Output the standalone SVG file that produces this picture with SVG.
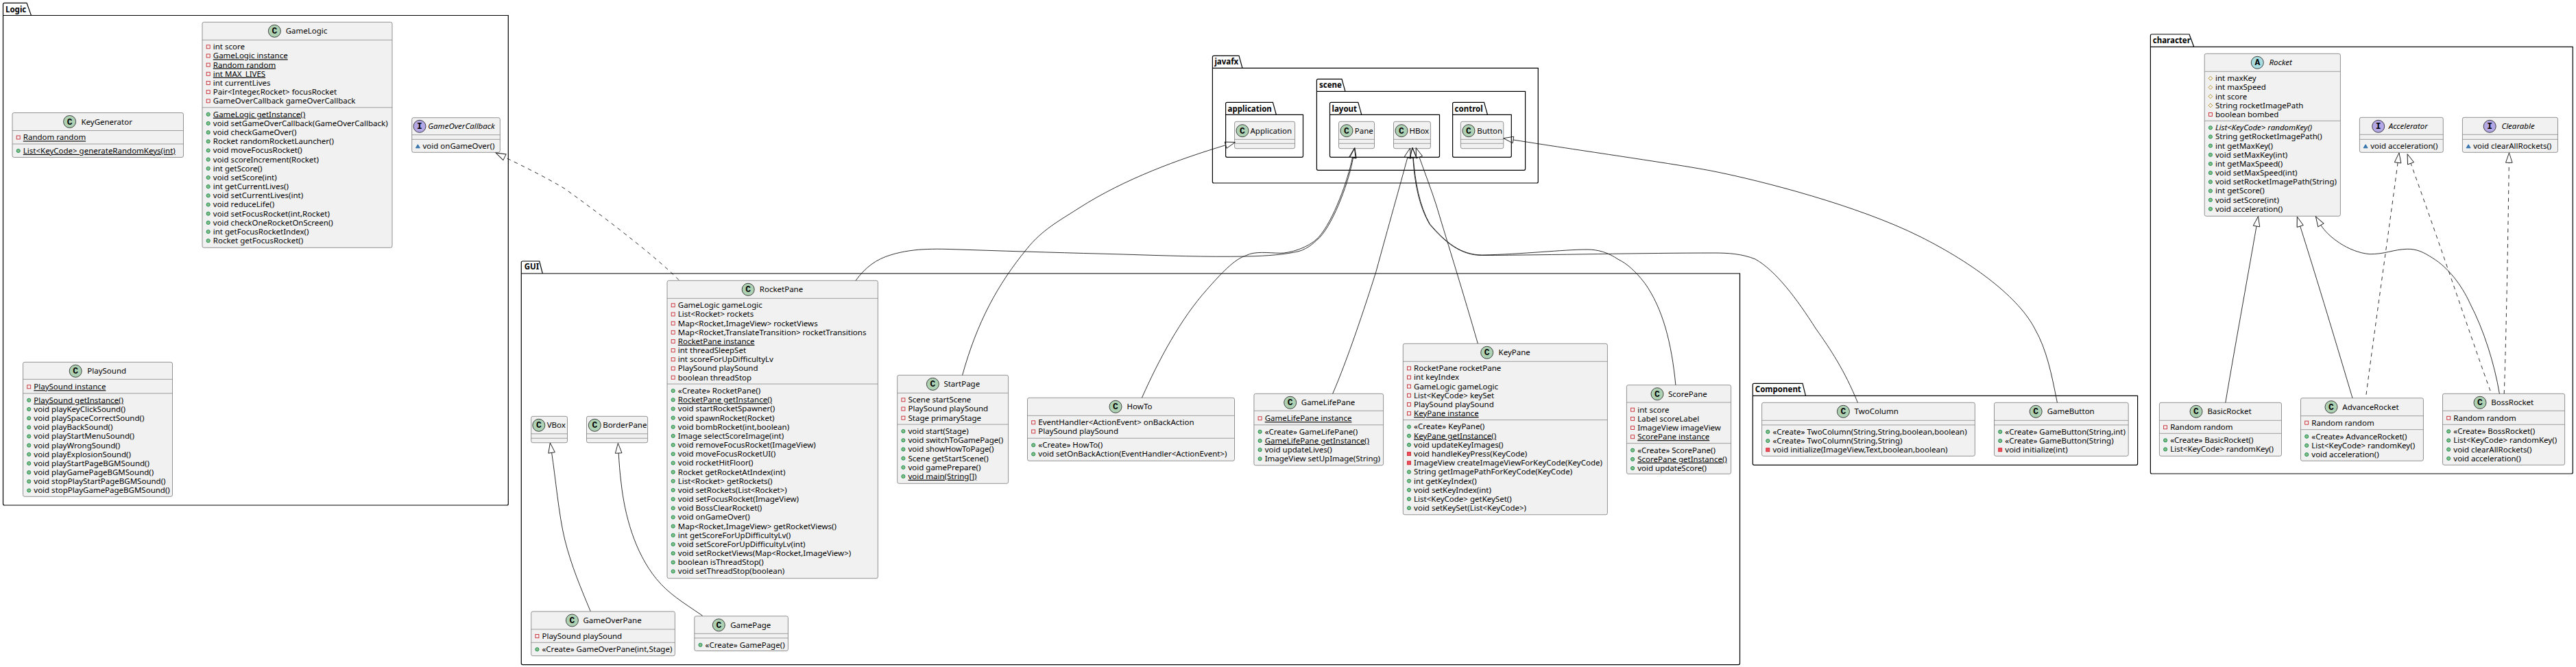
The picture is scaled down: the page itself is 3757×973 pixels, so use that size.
<svg xmlns="http://www.w3.org/2000/svg" width="3757" height="973" viewBox="0 0 3757 973">
<style>
text{font-family:"Noto Sans","Liberation Sans",sans-serif;font-size:11.5px;fill:#000}
.u{text-decoration:underline}
.i{font-style:italic}
.pl{font-weight:bold;font-size:11.5px}
.ci{font-family:"Liberation Mono",monospace;font-weight:bold;font-size:13px;text-anchor:middle}
.pk{fill:none;stroke:#000;stroke-width:1.2}
.box{fill:#F1F1F1;stroke:#777;stroke-width:.8}
.sep{stroke:#888;stroke-width:.8}
.cc{fill:#ADD1B2;stroke:#181818;stroke-width:.8}
.ca{fill:#A9DCDF;stroke:#181818;stroke-width:.8}
.cf{fill:#B4A7E5;stroke:#181818;stroke-width:.8}
.l{fill:none;stroke:#181818;stroke-width:.9;marker-end:url(#ext)}
.d{stroke-dasharray:5.6 5.6}
</style>
<defs>
<marker id="ext" markerUnits="userSpaceOnUse" markerWidth="18" markerHeight="14" viewBox="-1 -7 18 14" refX="0" refY="0" orient="auto"><path d="M0,-4.8 L14.5,0 L0,4.8Z" fill="none" stroke="#181818" stroke-width=".9"/></marker>
<rect id="pr" x="-2.5" y="-2.5" width="5" height="5" fill="none" stroke="#C82930" stroke-width=".9"/>
<rect id="prm" x="-2.5" y="-2.5" width="5" height="5" fill="#F24D5C" stroke="#C82930" stroke-width=".9"/>
<circle id="pu" r="2.6" fill="#84BE84" stroke="#038048" stroke-width=".8"/>
<path id="pt" d="M-3,0 L0,-3 L3,0 L0,3Z" fill="none" stroke="#B38D22" stroke-width=".9"/>
<path id="pk" d="M-3,2.5 L0,-2.5 L3,2.5Z" fill="#4177AF" stroke="#1963A0" stroke-width=".8"/>
</defs>
<rect width="3757" height="973" fill="#fff"/>
<g id="packages">
<g id="pkg-Logic"><path class="pk" d="M4.5,6.3 q0,-2 2,-2 H39 L45.5,22.5 H741.3 V735 q0,2 -2,2 H6.5 q-2,0 -2,-2 Z M4.5,22.5 H45.5"/><text class="pl" x="8" y="17.5">Logic</text></g>
<g id="pkg-GUI"><path class="pk" d="M760.3,383 q0,-2 2,-2 H786.7 L791.3,399 H2537.5 V967.6 q0,2 -2,2 H762.3 q-2,0 -2,-2 Z M760.3,399 H791.3"/><text class="pl" x="764.7" y="393.3">GUI</text></g>
<g id="pkg-Component"><path class="pk" d="M2556.3,561.3 q0,-2 2,-2 H2629 L2633.5,577.3 H3117.6 V676.3 q0,2 -2,2 H2558.3 q-2,0 -2,-2 Z M2556.3,577.3 H2633.5"/><text class="pl" x="2559.8" y="571.7">Component</text></g>
<g id="pkg-character"><path class="pk" d="M3136.4,52 q0,-2 2,-2 H3193 L3199.7,68.3 H3752.3 V689 q0,2 -2,2 H3138.4 q-2,0 -2,-2 Z M3136.4,68.3 H3199.7"/><text class="pl" x="3139.8" y="63.3">character</text></g>
<g id="pkg-javafx"><path class="pk" d="M1768.4,83.3 q0,-2 2,-2 H1807 L1812,99.3 H2243.3 V265 q0,2 -2,2 H1770.4 q-2,0 -2,-2 Z M1768.4,99.3 H1812"/><text class="pl" x="1771.4" y="94">javafx</text></g>
<g id="pkg-scene"><path class="pk" d="M1920.4,117.3 q0,-2 2,-2 H1957 L1962,133.3 H2224.6 V246.3 q0,2 -2,2 H1922.4 q-2,0 -2,-2 Z M1920.4,133.3 H1962"/><text class="pl" x="1924" y="128">scene</text></g>
<g id="pkg-application"><path class="pk" d="M1787.6,151.3 q0,-2 2,-2 H1856.4 L1861.4,167.3 H1900.5 V227.3 q0,2 -2,2 H1789.6 q-2,0 -2,-2 Z M1787.6,167.3 H1861.4"/><text class="pl" x="1790.6" y="162.5">application</text></g>
<g id="pkg-layout"><path class="pk" d="M1939.5,151.3 q0,-2 2,-2 H1980.8 L1985.8,167.3 H2099.5 V227.3 q0,2 -2,2 H1941.5 q-2,0 -2,-2 Z M1939.5,167.3 H1985.8"/><text class="pl" x="1942.5" y="162.5">layout</text></g>
<g id="pkg-control"><path class="pk" d="M2118.6,151.3 q0,-2 2,-2 H2164.5 L2169.5,167.3 H2204.3 V227.3 q0,2 -2,2 H2120.6 q-2,0 -2,-2 Z M2118.6,167.3 H2169.5"/><text class="pl" x="2121.6" y="162.5">control</text></g>
</g>
<g id="nodes">
<g id="KeyGenerator" transform="translate(18,164.5)"><rect class="box" width="249.5" height="65" rx="2.5"/><circle class="cc" cx="83.6" cy="13" r="9"/><text class="ci" x="83.6" y="17">C</text><text x="100.4" y="17">KeyGenerator</text><path class="sep" d="M0,26H249.5M0,45.5H249.5"/>
<g transform="translate(8.7,26)"><use href="#pr" y="10"/><text class="u" x="7.1" y="13.9">Random random</text></g>
<g transform="translate(8.7,45.5)"><use href="#pu" y="10"/><text class="u" x="7.1" y="13.9">List&lt;KeyCode&gt; generateRandomKeys(int)</text></g></g>
<g id="GameLogic" transform="translate(295,32.3)"><rect class="box" width="277" height="329" rx="2.5"/><circle class="cc" cx="105.4" cy="13" r="9"/><text class="ci" x="105.4" y="17">C</text><text x="121.7" y="17">GameLogic</text><path class="sep" d="M0,26H277M0,124.5H277"/>
<g transform="translate(8.7,26)"><use href="#pr" y="10"/><text x="7.1" y="13.9">int score</text><use href="#pr" y="23.17"/><text class="u" x="7.1" y="27.07">GameLogic instance</text><use href="#pr" y="36.34"/><text class="u" x="7.1" y="40.24">Random random</text><use href="#pr" y="49.51"/><text class="u" x="7.1" y="53.41">int MAX_LIVES</text><use href="#pr" y="62.68"/><text x="7.1" y="66.58">int currentLives</text><use href="#pr" y="75.85"/><text x="7.1" y="79.75">Pair&lt;Integer,Rocket&gt; focusRocket</text><use href="#pr" y="89.02"/><text x="7.1" y="92.92">GameOverCallback gameOverCallback</text></g>
<g transform="translate(8.7,124.5)"><use href="#pu" y="10"/><text class="u" x="7.1" y="13.9">GameLogic getInstance()</text><use href="#pu" y="23.17"/><text x="7.1" y="27.07">void setGameOverCallback(GameOverCallback)</text><use href="#pu" y="36.34"/><text x="7.1" y="40.24">void checkGameOver()</text><use href="#pu" y="49.51"/><text x="7.1" y="53.41">Rocket randomRocketLauncher()</text><use href="#pu" y="62.68"/><text x="7.1" y="66.58">void moveFocusRocket()</text><use href="#pu" y="75.85"/><text x="7.1" y="79.75">void scoreIncrement(Rocket)</text><use href="#pu" y="89.02"/><text x="7.1" y="92.92">int getScore()</text><use href="#pu" y="102.19"/><text x="7.1" y="106.09">void setScore(int)</text><use href="#pu" y="115.36"/><text x="7.1" y="119.26">int getCurrentLives()</text><use href="#pu" y="128.53"/><text x="7.1" y="132.43">void setCurrentLives(int)</text><use href="#pu" y="141.7"/><text x="7.1" y="145.6">void reduceLife()</text><use href="#pu" y="154.87"/><text x="7.1" y="158.77">void setFocusRocket(int,Rocket)</text><use href="#pu" y="168.04"/><text x="7.1" y="171.94">void checkOneRocketOnScreen()</text><use href="#pu" y="181.21"/><text x="7.1" y="185.11">int getFocusRocketIndex()</text><use href="#pu" y="194.38"/><text x="7.1" y="198.28">Rocket getFocusRocket()</text></g></g>
<g id="GameOverCallback" transform="translate(600.7,171.7)"><rect class="box" width="128.6" height="50.6" rx="2.5"/><circle class="cf" cx="11.3" cy="12.6" r="9"/><text class="ci" x="11.3" y="16.6">I</text><text class="i" x="23.6" y="16.6">GameOverCallback</text><path class="sep" d="M0,25H128.6M0,31.6H128.6"/>
<g transform="translate(8.7,31.6)"><use href="#pk" y="10"/><text x="7.1" y="13.9">void onGameOver()</text></g></g>
<g id="PlaySound" transform="translate(33.5,528.3)"><rect class="box" width="218" height="196" rx="2.5"/><circle class="cc" cx="76.7" cy="13" r="9"/><text class="ci" x="76.7" y="17">C</text><text x="93.8" y="17">PlaySound</text><path class="sep" d="M0,25H218M0,45.5H218"/>
<g transform="translate(8.7,26)"><use href="#pr" y="10"/><text class="u" x="7.1" y="13.9">PlaySound instance</text></g>
<g transform="translate(8.7,45.5)"><use href="#pu" y="10"/><text class="u" x="7.1" y="13.9">PlaySound getInstance()</text><use href="#pu" y="23.17"/><text x="7.1" y="27.07">void playKeyClickSound()</text><use href="#pu" y="36.34"/><text x="7.1" y="40.24">void playSpaceCorrectSound()</text><use href="#pu" y="49.51"/><text x="7.1" y="53.41">void playBackSound()</text><use href="#pu" y="62.68"/><text x="7.1" y="66.58">void playStartMenuSound()</text><use href="#pu" y="75.85"/><text x="7.1" y="79.75">void playWrongSound()</text><use href="#pu" y="89.02"/><text x="7.1" y="92.92">void playExplosionSound()</text><use href="#pu" y="102.19"/><text x="7.1" y="106.09">void playStartPageBGMSound()</text><use href="#pu" y="115.36"/><text x="7.1" y="119.26">void playGamePageBGMSound()</text><use href="#pu" y="128.53"/><text x="7.1" y="132.43">void stopPlayStartPageBGMSound()</text><use href="#pu" y="141.7"/><text x="7.1" y="145.6">void stopPlayGamePageBGMSound()</text></g></g>
<g id="VBox" transform="translate(774.7,607.3)"><rect class="box" width="52.8" height="38.5" rx="2.5"/><circle class="cc" cx="11.1" cy="13" r="9"/><text class="ci" x="11.1" y="17">C</text><text x="23" y="17">VBox</text><path class="sep" d="M0,25.5H52.8M0,32H52.8"/></g>
<g id="BorderPane" transform="translate(855.5,607.3)"><rect class="box" width="89.1" height="38.5" rx="2.5"/><circle class="cc" cx="11.8" cy="13" r="9"/><text class="ci" x="11.8" y="17">C</text><text x="23.7" y="17">BorderPane</text><path class="sep" d="M0,25.5H89.1M0,32H89.1"/></g>
<g id="GameOverPane" transform="translate(774.7,892)"><rect class="box" width="209.7" height="64.7" rx="2.5"/><circle class="cc" cx="59.7" cy="13" r="9"/><text class="ci" x="59.7" y="17">C</text><text x="75.8" y="17">GameOverPane</text><path class="sep" d="M0,26H209.7M0,45.3H209.7"/>
<g transform="translate(8.7,26)"><use href="#pr" y="10"/><text x="7.1" y="13.9">PlaySound playSound</text></g>
<g transform="translate(8.7,45.3)"><use href="#pu" y="10"/><text x="7.1" y="13.9">«Create» GameOverPane(int,Stage)</text></g></g>
<g id="GamePage" transform="translate(1012.8,898.8)"><rect class="box" width="136.6" height="50.7" rx="2.5"/><circle class="cc" cx="35.5" cy="13" r="9"/><text class="ci" x="35.5" y="17">C</text><text x="52.4" y="17">GamePage</text><path class="sep" d="M0,25.5H136.6M0,32H136.6"/>
<g transform="translate(8.7,32)"><use href="#pu" y="10"/><text x="7.1" y="13.9">«Create» GamePage()</text></g></g>
<g id="RocketPane" transform="translate(973,409.3)"><rect class="box" width="307.4" height="434.4" rx="2.5"/><circle class="cc" cx="118.2" cy="13" r="9"/><text class="ci" x="118.2" y="17">C</text><text x="134.8" y="17">RocketPane</text><path class="sep" d="M0,26H307.4M0,150.8H307.4"/>
<g transform="translate(8.7,26)"><use href="#pr" y="10"/><text x="7.1" y="13.9">GameLogic gameLogic</text><use href="#pr" y="23.17"/><text x="7.1" y="27.07">List&lt;Rocket&gt; rockets</text><use href="#pr" y="36.34"/><text x="7.1" y="40.24">Map&lt;Rocket,ImageView&gt; rocketViews</text><use href="#pr" y="49.51"/><text x="7.1" y="53.41">Map&lt;Rocket,TranslateTransition&gt; rocketTransitions</text><use href="#pr" y="62.68"/><text class="u" x="7.1" y="66.58">RocketPane instance</text><use href="#pr" y="75.85"/><text x="7.1" y="79.75">int threadSleepSet</text><use href="#pr" y="89.02"/><text x="7.1" y="92.92">int scoreForUpDifficultyLv</text><use href="#pr" y="102.19"/><text x="7.1" y="106.09">PlaySound playSound</text><use href="#pr" y="115.36"/><text x="7.1" y="119.26">boolean threadStop</text></g>
<g transform="translate(8.7,150.8)"><use href="#pu" y="10"/><text x="7.1" y="13.9">«Create» RocketPane()</text><use href="#pu" y="23.17"/><text class="u" x="7.1" y="27.07">RocketPane getInstance()</text><use href="#pu" y="36.34"/><text x="7.1" y="40.24">void startRocketSpawner()</text><use href="#pu" y="49.51"/><text x="7.1" y="53.41">void spawnRocket(Rocket)</text><use href="#pu" y="62.68"/><text x="7.1" y="66.58">void bombRocket(int,boolean)</text><use href="#pu" y="75.85"/><text x="7.1" y="79.75">Image selectScoreImage(int)</text><use href="#pu" y="89.02"/><text x="7.1" y="92.92">void removeFocusRocket(ImageView)</text><use href="#pu" y="102.19"/><text x="7.1" y="106.09">void moveFocusRocketUI()</text><use href="#pu" y="115.36"/><text x="7.1" y="119.26">void rocketHitFloor()</text><use href="#pu" y="128.53"/><text x="7.1" y="132.43">Rocket getRocketAtIndex(int)</text><use href="#pu" y="141.7"/><text x="7.1" y="145.6">List&lt;Rocket&gt; getRockets()</text><use href="#pu" y="154.87"/><text x="7.1" y="158.77">void setRockets(List&lt;Rocket&gt;)</text><use href="#pu" y="168.04"/><text x="7.1" y="171.94">void setFocusRocket(ImageView)</text><use href="#pu" y="181.21"/><text x="7.1" y="185.11">void BossClearRocket()</text><use href="#pu" y="194.38"/><text x="7.1" y="198.28">void onGameOver()</text><use href="#pu" y="207.55"/><text x="7.1" y="211.45">Map&lt;Rocket,ImageView&gt; getRocketViews()</text><use href="#pu" y="220.72"/><text x="7.1" y="224.62">int getScoreForUpDifficultyLv()</text><use href="#pu" y="233.89"/><text x="7.1" y="237.79">void setScoreForUpDifficultyLv(int)</text><use href="#pu" y="247.06"/><text x="7.1" y="250.96">void setRocketViews(Map&lt;Rocket,ImageView&gt;)</text><use href="#pu" y="260.23"/><text x="7.1" y="264.13">boolean isThreadStop()</text><use href="#pu" y="273.4"/><text x="7.1" y="277.3">void setThreadStop(boolean)</text></g></g>
<g id="StartPage" transform="translate(1308.7,547.3)"><rect class="box" width="161.9" height="158" rx="2.5"/><circle class="cc" cx="51.7" cy="13" r="9"/><text class="ci" x="51.7" y="17">C</text><text x="67.7" y="17">StartPage</text><path class="sep" d="M0,26H161.9M0,71.8H161.9"/>
<g transform="translate(8.7,26)"><use href="#pr" y="10"/><text x="7.1" y="13.9">Scene startScene</text><use href="#pr" y="23.17"/><text x="7.1" y="27.07">PlaySound playSound</text><use href="#pr" y="36.34"/><text x="7.1" y="40.24">Stage primaryStage</text></g>
<g transform="translate(8.7,71.8)"><use href="#pu" y="10"/><text x="7.1" y="13.9">void start(Stage)</text><use href="#pu" y="23.17"/><text x="7.1" y="27.07">void switchToGamePage()</text><use href="#pu" y="36.34"/><text x="7.1" y="40.24">void showHowToPage()</text><use href="#pu" y="49.51"/><text x="7.1" y="53.41">Scene getStartScene()</text><use href="#pu" y="62.68"/><text x="7.1" y="66.58">void gamePrepare()</text><use href="#pu" y="75.85"/><text class="u" x="7.1" y="79.75">void main(String[])</text></g></g>
<g id="HowTo" transform="translate(1498.5,580.3)"><rect class="box" width="302" height="92" rx="2.5"/><circle class="cc" cx="128.5" cy="13" r="9"/><text class="ci" x="128.5" y="17">C</text><text x="145.1" y="17">HowTo</text><path class="sep" d="M0,26H302M0,59H302"/>
<g transform="translate(8.7,26)"><use href="#pr" y="10"/><text x="7.1" y="13.9">EventHandler&lt;ActionEvent&gt; onBackAction</text><use href="#pr" y="23.17"/><text x="7.1" y="27.07">PlaySound playSound</text></g>
<g transform="translate(8.7,59)"><use href="#pu" y="10"/><text x="7.1" y="13.9">«Create» HowTo()</text><use href="#pu" y="23.17"/><text x="7.1" y="27.07">void setOnBackAction(EventHandler&lt;ActionEvent&gt;)</text></g></g>
<g id="GameLifePane" transform="translate(1828.9,574.3)"><rect class="box" width="188.7" height="104.5" rx="2.5"/><circle class="cc" cx="52.8" cy="13" r="9"/><text class="ci" x="52.8" y="17">C</text><text x="68.9" y="17">GameLifePane</text><path class="sep" d="M0,25H188.7M0,45.5H188.7"/>
<g transform="translate(8.7,26)"><use href="#pr" y="10"/><text class="u" x="7.1" y="13.9">GameLifePane instance</text></g>
<g transform="translate(8.7,45.5)"><use href="#pu" y="10"/><text x="7.1" y="13.9">«Create» GameLifePane()</text><use href="#pu" y="23.17"/><text class="u" x="7.1" y="27.07">GameLifePane getInstance()</text><use href="#pu" y="36.34"/><text x="7.1" y="40.24">void updateLives()</text><use href="#pu" y="49.51"/><text x="7.1" y="53.41">ImageView setUpImage(String)</text></g></g>
<g id="KeyPane" transform="translate(2046.3,501.3)"><rect class="box" width="298.1" height="249.5" rx="2.5"/><circle class="cc" cx="122.4" cy="13" r="9"/><text class="ci" x="122.4" y="17">C</text><text x="139.3" y="17">KeyPane</text><path class="sep" d="M0,26H298.1M0,111.3H298.1"/>
<g transform="translate(8.7,26)"><use href="#pr" y="10"/><text x="7.1" y="13.9">RocketPane rocketPane</text><use href="#pr" y="23.17"/><text x="7.1" y="27.07">int keyIndex</text><use href="#pr" y="36.34"/><text x="7.1" y="40.24">GameLogic gameLogic</text><use href="#pr" y="49.51"/><text x="7.1" y="53.41">List&lt;KeyCode&gt; keySet</text><use href="#pr" y="62.68"/><text x="7.1" y="66.58">PlaySound playSound</text><use href="#pr" y="75.85"/><text class="u" x="7.1" y="79.75">KeyPane instance</text></g>
<g transform="translate(8.7,111.3)"><use href="#pu" y="10"/><text x="7.1" y="13.9">«Create» KeyPane()</text><use href="#pu" y="23.17"/><text class="u" x="7.1" y="27.07">KeyPane getInstance()</text><use href="#pu" y="36.34"/><text x="7.1" y="40.24">void updateKeyImages()</text><use href="#prm" y="49.51"/><text x="7.1" y="53.41">void handleKeyPress(KeyCode)</text><use href="#prm" y="62.68"/><text x="7.1" y="66.58">ImageView createImageViewForKeyCode(KeyCode)</text><use href="#pu" y="75.85"/><text x="7.1" y="79.75">String getImagePathForKeyCode(KeyCode)</text><use href="#pu" y="89.02"/><text x="7.1" y="92.92">int getKeyIndex()</text><use href="#pu" y="102.19"/><text x="7.1" y="106.09">void setKeyIndex(int)</text><use href="#pu" y="115.36"/><text x="7.1" y="119.26">List&lt;KeyCode&gt; getKeySet()</text><use href="#pu" y="128.53"/><text x="7.1" y="132.43">void setKeySet(List&lt;KeyCode&gt;)</text></g></g>
<g id="ScorePane" transform="translate(2372.4,561.7)"><rect class="box" width="152.2" height="129.6" rx="2.5"/><circle class="cc" cx="44.6" cy="13" r="9"/><text class="ci" x="44.6" y="17">C</text><text x="60.6" y="17">ScorePane</text><path class="sep" d="M0,25.3H152.2M0,85H152.2"/>
<g transform="translate(8.7,26)"><use href="#pr" y="10"/><text x="7.1" y="13.9">int score</text><use href="#pr" y="23.17"/><text x="7.1" y="27.07">Label scoreLabel</text><use href="#pr" y="36.34"/><text x="7.1" y="40.24">ImageView imageView</text><use href="#pr" y="49.51"/><text class="u" x="7.1" y="53.41">ScorePane instance</text></g>
<g transform="translate(8.7,85)"><use href="#pu" y="10"/><text x="7.1" y="13.9">«Create» ScorePane()</text><use href="#pu" y="23.17"/><text class="u" x="7.1" y="27.07">ScorePane getInstance()</text><use href="#pu" y="36.34"/><text x="7.1" y="40.24">void updateScore()</text></g></g>
<g id="TwoColumn" transform="translate(2569.6,587.3)"><rect class="box" width="310.8" height="78" rx="2.5"/><circle class="cc" cx="118.8" cy="13" r="9"/><text class="ci" x="118.8" y="17">C</text><text x="134.9" y="17">TwoColumn</text><path class="sep" d="M0,26H310.8M0,32.6H310.8"/>
<g transform="translate(8.7,32.6)"><use href="#pu" y="10"/><text x="7.1" y="13.9">«Create» TwoColumn(String,String,boolean,boolean)</text><use href="#pu" y="23.17"/><text x="7.1" y="27.07">«Create» TwoColumn(String,String)</text><use href="#prm" y="36.34"/><text x="7.1" y="40.24">void initialize(ImageView,Text,boolean,boolean)</text></g></g>
<g id="GameButton" transform="translate(2908.5,587.3)"><rect class="box" width="195.7" height="78" rx="2.5"/><circle class="cc" cx="60.7" cy="13" r="9"/><text class="ci" x="60.7" y="17">C</text><text x="77.2" y="17">GameButton</text><path class="sep" d="M0,26H195.7M0,32.6H195.7"/>
<g transform="translate(8.7,32.6)"><use href="#pu" y="10"/><text x="7.1" y="13.9">«Create» GameButton(String,int)</text><use href="#pu" y="23.17"/><text x="7.1" y="27.07">«Create» GameButton(String)</text><use href="#prm" y="36.34"/><text x="7.1" y="40.24">void initialize(int)</text></g></g>
<g id="Rocket" transform="translate(3215.2,78.3)"><rect class="box" width="198.2" height="237" rx="2.5"/><circle class="ca" cx="77.1" cy="13" r="9"/><text class="ci" x="77.1" y="17">A</text><text class="i" x="94.3" y="17">Rocket</text><path class="sep" d="M0,26H198.2M0,98H198.2"/>
<g transform="translate(8.7,26)"><use href="#pt" y="10"/><text x="7.1" y="13.9">int maxKey</text><use href="#pt" y="23.17"/><text x="7.1" y="27.07">int maxSpeed</text><use href="#pt" y="36.34"/><text x="7.1" y="40.24">int score</text><use href="#pt" y="49.51"/><text x="7.1" y="53.41">String rocketImagePath</text><use href="#pr" y="62.68"/><text x="7.1" y="66.58">boolean bombed</text></g>
<g transform="translate(8.7,98)"><use href="#pu" y="10"/><text class="i" x="7.1" y="13.9">List&lt;KeyCode&gt; randomKey()</text><use href="#pu" y="23.17"/><text x="7.1" y="27.07">String getRocketImagePath()</text><use href="#pu" y="36.34"/><text x="7.1" y="40.24">int getMaxKey()</text><use href="#pu" y="49.51"/><text x="7.1" y="53.41">void setMaxKey(int)</text><use href="#pu" y="62.68"/><text x="7.1" y="66.58">int getMaxSpeed()</text><use href="#pu" y="75.85"/><text x="7.1" y="79.75">void setMaxSpeed(int)</text><use href="#pu" y="89.02"/><text x="7.1" y="92.92">void setRocketImagePath(String)</text><use href="#pu" y="102.19"/><text x="7.1" y="106.09">int getScore()</text><use href="#pu" y="115.36"/><text x="7.1" y="119.26">void setScore(int)</text><use href="#pu" y="128.53"/><text x="7.1" y="132.43">void acceleration()</text></g></g>
<g id="Accelerator" transform="translate(3441.4,171.3)"><rect class="box" width="121.9" height="51" rx="2.5"/><circle class="cf" cx="27.3" cy="13" r="9"/><text class="ci" x="27.3" y="17">I</text><text class="i" x="42.3" y="17">Accelerator</text><path class="sep" d="M0,25H121.9M0,32H121.9"/>
<g transform="translate(8.7,32)"><use href="#pk" y="10"/><text x="7.1" y="13.9">void acceleration()</text></g></g>
<g id="Clearable" transform="translate(3591.4,171.3)"><rect class="box" width="139.1" height="51" rx="2.5"/><circle class="cf" cx="39.8" cy="13" r="9"/><text class="ci" x="39.8" y="17">I</text><text class="i" x="57" y="17">Clearable</text><path class="sep" d="M0,25H139.1M0,32H139.1"/>
<g transform="translate(8.7,32)"><use href="#pk" y="10"/><text x="7.1" y="13.9">void clearAllRockets()</text></g></g>
<g id="BasicRocket" transform="translate(3149.4,587.3)"><rect class="box" width="178.1" height="78" rx="2.5"/><circle class="cc" cx="53.6" cy="13" r="9"/><text class="ci" x="53.6" y="17">C</text><text x="70" y="17">BasicRocket</text><path class="sep" d="M0,26H178.1M0,45H178.1"/>
<g transform="translate(8.7,26)"><use href="#pr" y="10"/><text x="7.1" y="13.9">Random random</text></g>
<g transform="translate(8.7,45)"><use href="#pu" y="10"/><text x="7.1" y="13.9">«Create» BasicRocket()</text><use href="#pu" y="23.17"/><text x="7.1" y="27.07">List&lt;KeyCode&gt; randomKey()</text></g></g>
<g id="AdvanceRocket" transform="translate(3355.5,580.7)"><rect class="box" width="178.9" height="91.6" rx="2.5"/><circle class="cc" cx="44.5" cy="13" r="9"/><text class="ci" x="44.5" y="17">C</text><text x="60.8" y="17">AdvanceRocket</text><path class="sep" d="M0,26H178.9M0,46H178.9"/>
<g transform="translate(8.7,26)"><use href="#pr" y="10"/><text x="7.1" y="13.9">Random random</text></g>
<g transform="translate(8.7,46)"><use href="#pu" y="10"/><text x="7.1" y="13.9">«Create» AdvanceRocket()</text><use href="#pu" y="23.17"/><text x="7.1" y="27.07">List&lt;KeyCode&gt; randomKey()</text><use href="#pu" y="36.34"/><text x="7.1" y="40.24">void acceleration()</text></g></g>
<g id="BossRocket" transform="translate(3562.5,574.3)"><rect class="box" width="178.1" height="104" rx="2.5"/><circle class="cc" cx="54.5" cy="13" r="9"/><text class="ci" x="54.5" y="17">C</text><text x="70.8" y="17">BossRocket</text><path class="sep" d="M0,25H178.1M0,45H178.1"/>
<g transform="translate(8.7,25.5)"><use href="#pr" y="10"/><text x="7.1" y="13.9">Random random</text></g>
<g transform="translate(8.7,45)"><use href="#pu" y="10"/><text x="7.1" y="13.9">«Create» BossRocket()</text><use href="#pu" y="23.17"/><text x="7.1" y="27.07">List&lt;KeyCode&gt; randomKey()</text><use href="#pu" y="36.34"/><text x="7.1" y="40.24">void clearAllRockets()</text><use href="#pu" y="49.51"/><text x="7.1" y="53.41">void acceleration()</text></g></g>
<g id="Application" transform="translate(1800.6,177.3)"><rect class="box" width="88" height="39.4" rx="2.5"/><circle class="cc" cx="11.4" cy="13.4" r="9"/><text class="ci" x="11.4" y="17.4">C</text><text x="22.9" y="17.4">Application</text><path class="sep" d="M0,26H88M0,32H88"/></g>
<g id="Pane" transform="translate(1952.5,177.3)"><rect class="box" width="52" height="39.4" rx="2.5"/><circle class="cc" cx="11.5" cy="13.4" r="9"/><text class="ci" x="11.5" y="17.4">C</text><text x="23.3" y="17.4">Pane</text><path class="sep" d="M0,26H52M0,32H52"/></g>
<g id="HBox" transform="translate(2032.5,177.3)"><rect class="box" width="53.9" height="39.4" rx="2.5"/><circle class="cc" cx="11.5" cy="13.4" r="9"/><text class="ci" x="11.5" y="17.4">C</text><text x="22.9" y="17.4">HBox</text><path class="sep" d="M0,26H53.9M0,32H53.9"/></g>
<g id="Button" transform="translate(2130.4,177.3)"><rect class="box" width="62.4" height="39.4" rx="2.5"/><circle class="cc" cx="11.6" cy="13.4" r="9"/><text class="ci" x="11.6" y="17.4">C</text><text x="23.8" y="17.4">Button</text><path class="sep" d="M0,26H62.4M0,32H62.4"/></g>
</g>
<g id="connectors">
<path class="l d" d="M990,408.5 C968,385 900,330 823.3,275 C795,258 762,242 736,229.3"/>
<path class="l" d="M861.2,891.7 C848,860 833,825 823.7,787 C815,752 810,695 804.6,660.4"/>
<path class="l" d="M1024.6,898.2 C995,878 975,866 957.6,844.8 C925,805 911,750 906,705 C904,690 903,675 902.2,661"/>
<path class="l" d="M1248,409.3 C1262,390 1278,378 1299.7,371.7 C1335,361 1370,363 1408,364.3 C1490,367 1560,369 1637.8,371 C1700,373 1760,375 1817,374 C1850,373.5 1875,371 1894,366.7 C1910,362 1918,352 1924.6,346.7 C1947,322 1968,262 1973.5,230"/>
<path class="l" d="M1665.4,580.3 C1690,525 1722,465 1760,422.7 C1780,400 1800,378 1817.4,372.7 C1830,366 1850,369 1867,369.3 C1880,369.5 1908,362 1922.6,346.7 C1945,322 1966,262 1972.5,230"/>
<path class="l" d="M1403.6,547.3 C1425,470 1455,415 1497.4,363.3 C1520,335 1545,322 1574,303.3 C1640,261 1720,232 1787.6,211.7"/>
<path class="l" d="M1943.7,574.3 C1965,525 1990,450 2006.8,396.7 C2025,330 2042,270 2052.8,230"/>
<path class="l" d="M2155.3,501 C2135,430 2112,356.7 2095,300 C2088,278 2078,252 2070,229.3"/>
<path class="l" d="M2443.9,561.7 C2438,500 2425,450 2399,413.3 C2385,395 2372,384 2360,378.3 C2345,368 2330,364 2315,364 C2280,364 2220,371 2161.8,372 C2130,372 2108,353 2085.3,326.7 C2070,300 2064,265 2061.2,230"/>
<path class="l" d="M2709.4,587.3 C2690,540 2670,510 2648.7,480 C2620,435 2590,395 2560,378 C2540,370 2520,369 2500,369 C2400,369 2260,372 2161.8,372.5 C2130,372.5 2107,353 2085.3,327.5 C2069,300 2063,265 2060.8,230"/>
<path class="l" d="M3000.4,587.3 C2992,545 2985,510 2967.9,480 C2945,435 2880,385 2800,345 C2710,300 2570,264 2500,250 C2450,240 2320,222 2207,204"/>
<path class="l" d="M3245.8,587.3 C3257,520 3278,405 3291,330"/>
<path class="l" d="M3431,580.7 C3410,510 3380,410 3354.7,330"/>
<path class="l" d="M3645.4,574.3 C3638,530 3622,480 3602.7,443.3 C3590,415 3570,390 3548.3,376.7 C3535,368 3525,363 3510.6,363.3 C3490,364 3478,371 3456,370.7 C3425,368 3395,345 3384.9,328.3"/>
<path class="l d" d="M3451,575.7 C3462,490 3485,330 3497.1,237.3"/>
<path class="l d" d="M3632,570 C3610,510 3560,360 3516,238.3"/>
<path class="l d" d="M3652.2,574.3 C3655,500 3658,340 3659.3,237.3"/>
</g>
</svg>
